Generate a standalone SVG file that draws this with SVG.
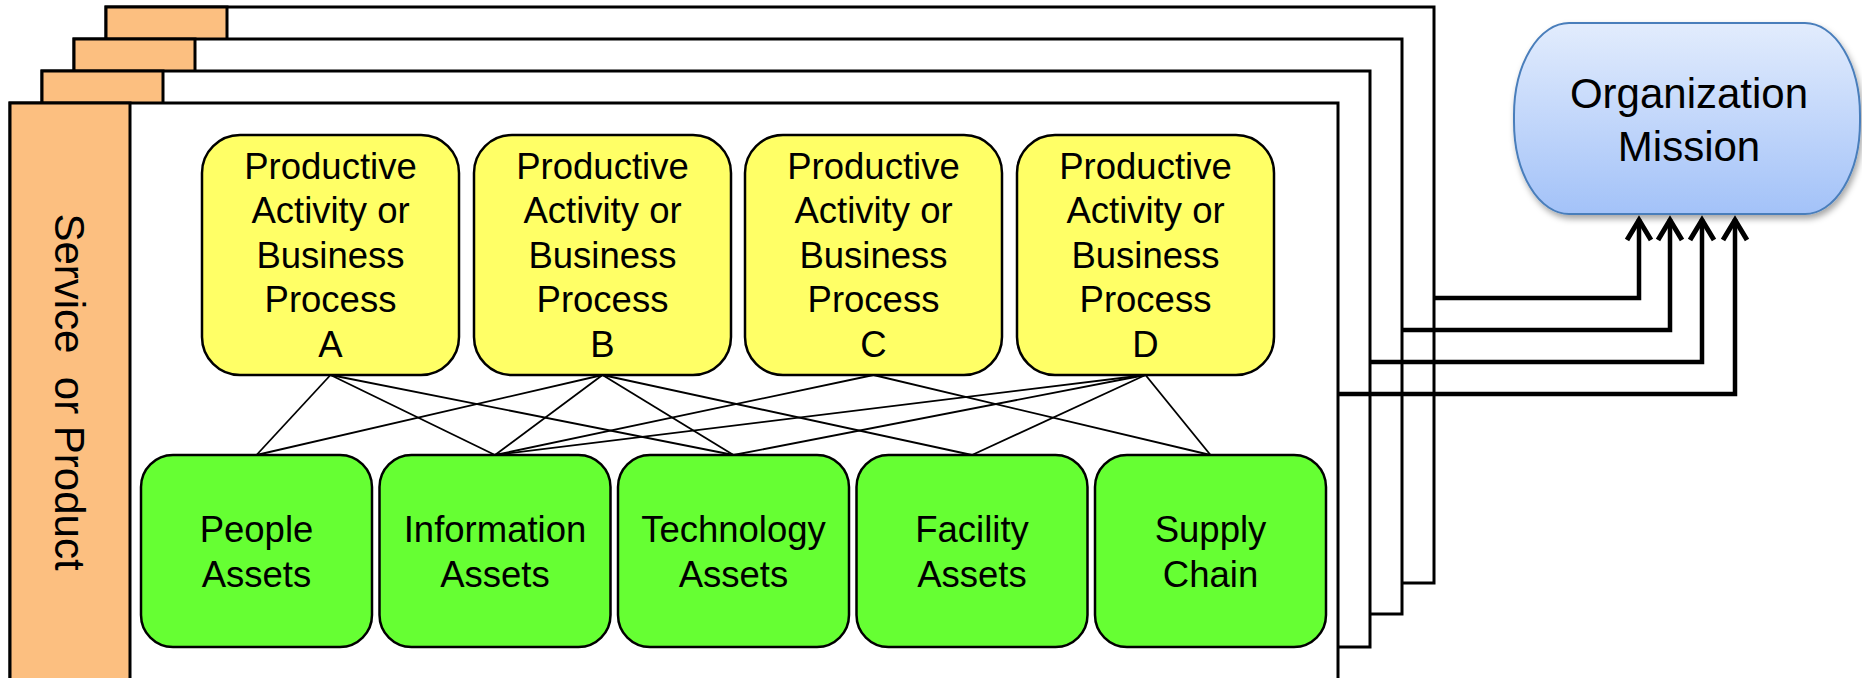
<svg xmlns="http://www.w3.org/2000/svg" width="1862" height="678" viewBox="0 0 1862 678">
<defs>
<linearGradient id="missionGrad" x1="0" y1="0" x2="0" y2="1">
<stop offset="0" stop-color="#e2ecfd"/>
<stop offset="1" stop-color="#a3c2f8"/>
</linearGradient>
<filter id="shadow" x="-10%" y="-10%" width="130%" height="140%">
<feDropShadow dx="2" dy="4" stdDeviation="3" flood-color="#000" flood-opacity="0.35"/>
</filter>
<marker id="chev" viewBox="0 0 30 30" refX="25" refY="15" markerWidth="30" markerHeight="30" markerUnits="userSpaceOnUse" orient="auto">
<polyline points="4,3 24,15 4,27" fill="none" stroke="#000" stroke-width="5" stroke-linejoin="miter" stroke-linecap="butt"/>
</marker>
</defs>
<style>
.sheet{fill:#fff;stroke:#000;stroke-width:3}
.tab{fill:#fcbf80;stroke:#000;stroke-width:3}
.proc{fill:#ffff66;stroke:#000;stroke-width:2.5}
.asset{fill:#66ff33;stroke:#000;stroke-width:2.5}
.link{stroke:#000;stroke-width:1.8;fill:none}
.feed{stroke:#000;stroke-width:4.5;fill:none;stroke-linejoin:miter}
.t{font-family:"Liberation Sans",Arial,sans-serif;fill:#000;text-anchor:middle}
.pt{font-size:36.5px}
.at{font-size:36.5px}
</style>

<g id="sheet4">
<rect class="sheet" x="106" y="7" width="1328" height="576"/>
<rect class="tab" x="106" y="7" width="121" height="576"/>
</g>
<g id="sheet3">
<rect class="sheet" x="74" y="39" width="1328" height="575"/>
<rect class="tab" x="74" y="39" width="121" height="575"/>
</g>
<g id="sheet2">
<rect class="sheet" x="42" y="71" width="1328" height="576"/>
<rect class="tab" x="42" y="71" width="121" height="576"/>
</g>
<g id="sheet1">
<rect class="sheet" x="10" y="103" width="1328" height="590"/>
<rect class="tab" x="10" y="103" width="120" height="590"/>
<text class="t" font-size="42" xml:space="preserve" transform="translate(55,392) rotate(90)">Service  or Product</text>
</g>

<g id="connectors">
<line class="link" x1="330.5" y1="375" x2="256.5" y2="455"/>
<line class="link" x1="330.5" y1="375" x2="495" y2="455"/>
<line class="link" x1="330.5" y1="375" x2="733.5" y2="455"/>
<line class="link" x1="602.5" y1="375" x2="256.5" y2="455"/>
<line class="link" x1="602.5" y1="375" x2="495" y2="455"/>
<line class="link" x1="602.5" y1="375" x2="733.5" y2="455"/>
<line class="link" x1="602.5" y1="375" x2="972" y2="455"/>
<line class="link" x1="873.5" y1="375" x2="495" y2="455"/>
<line class="link" x1="873.5" y1="375" x2="1210.5" y2="455"/>
<line class="link" x1="1145.5" y1="375" x2="495" y2="455"/>
<line class="link" x1="1145.5" y1="375" x2="733.5" y2="455"/>
<line class="link" x1="1145.5" y1="375" x2="972" y2="455"/>
<line class="link" x1="1145.5" y1="375" x2="1210.5" y2="455"/>
<path class="feed" d="M1434,298 H1639 V219" marker-end="url(#chev)"/>
<path class="feed" d="M1402,330 H1670 V219" marker-end="url(#chev)"/>
<path class="feed" d="M1370,362 H1702 V219" marker-end="url(#chev)"/>
<path class="feed" d="M1338,394 H1735 V219" marker-end="url(#chev)"/>
</g>

<g id="procA">
<rect class="proc" x="202" y="135" width="257" height="240" rx="38" ry="38"/>
<text class="t pt" x="330.5"><tspan x="330.5" y="178.5">Productive</tspan><tspan x="330.5" y="223">Activity or</tspan><tspan x="330.5" y="267.5">Business</tspan><tspan x="330.5" y="312">Process</tspan><tspan x="330.5" y="357">A</tspan></text>
</g>
<g id="procB">
<rect class="proc" x="474" y="135" width="257" height="240" rx="38" ry="38"/>
<text class="t pt" x="602.5"><tspan x="602.5" y="178.5">Productive</tspan><tspan x="602.5" y="223">Activity or</tspan><tspan x="602.5" y="267.5">Business</tspan><tspan x="602.5" y="312">Process</tspan><tspan x="602.5" y="357">B</tspan></text>
</g>
<g id="procC">
<rect class="proc" x="745" y="135" width="257" height="240" rx="38" ry="38"/>
<text class="t pt" x="873.5"><tspan x="873.5" y="178.5">Productive</tspan><tspan x="873.5" y="223">Activity or</tspan><tspan x="873.5" y="267.5">Business</tspan><tspan x="873.5" y="312">Process</tspan><tspan x="873.5" y="357">C</tspan></text>
</g>
<g id="procD">
<rect class="proc" x="1017" y="135" width="257" height="240" rx="38" ry="38"/>
<text class="t pt" x="1145.5"><tspan x="1145.5" y="178.5">Productive</tspan><tspan x="1145.5" y="223">Activity or</tspan><tspan x="1145.5" y="267.5">Business</tspan><tspan x="1145.5" y="312">Process</tspan><tspan x="1145.5" y="357">D</tspan></text>
</g>

<g id="people">
<rect class="asset" x="141" y="455" width="231" height="192" rx="32" ry="32"/>
<text class="t at"><tspan x="256.5" y="542">People</tspan><tspan x="256.5" y="587">Assets</tspan></text>
</g>
<g id="information">
<rect class="asset" x="379.5" y="455" width="231" height="192" rx="32" ry="32"/>
<text class="t at"><tspan x="495" y="542">Information</tspan><tspan x="495" y="587">Assets</tspan></text>
</g>
<g id="technology">
<rect class="asset" x="618" y="455" width="231" height="192" rx="32" ry="32"/>
<text class="t at"><tspan x="733.5" y="542">Technology</tspan><tspan x="733.5" y="587">Assets</tspan></text>
</g>
<g id="facility">
<rect class="asset" x="856.5" y="455" width="231" height="192" rx="32" ry="32"/>
<text class="t at"><tspan x="972" y="542">Facility</tspan><tspan x="972" y="587">Assets</tspan></text>
</g>
<g id="supply">
<rect class="asset" x="1095" y="455" width="231" height="192" rx="32" ry="32"/>
<text class="t at"><tspan x="1210.5" y="542">Supply</tspan><tspan x="1210.5" y="587">Chain</tspan></text>
</g>

<g id="mission">
<rect x="1514" y="23" width="346" height="191" rx="55" ry="92" fill="url(#missionGrad)" stroke="#4a7ebb" stroke-width="2" filter="url(#shadow)"/>
<text class="t" font-size="42"><tspan x="1689" y="108">Organization</tspan><tspan x="1689" y="161">Mission</tspan></text>
</g>
</svg>
